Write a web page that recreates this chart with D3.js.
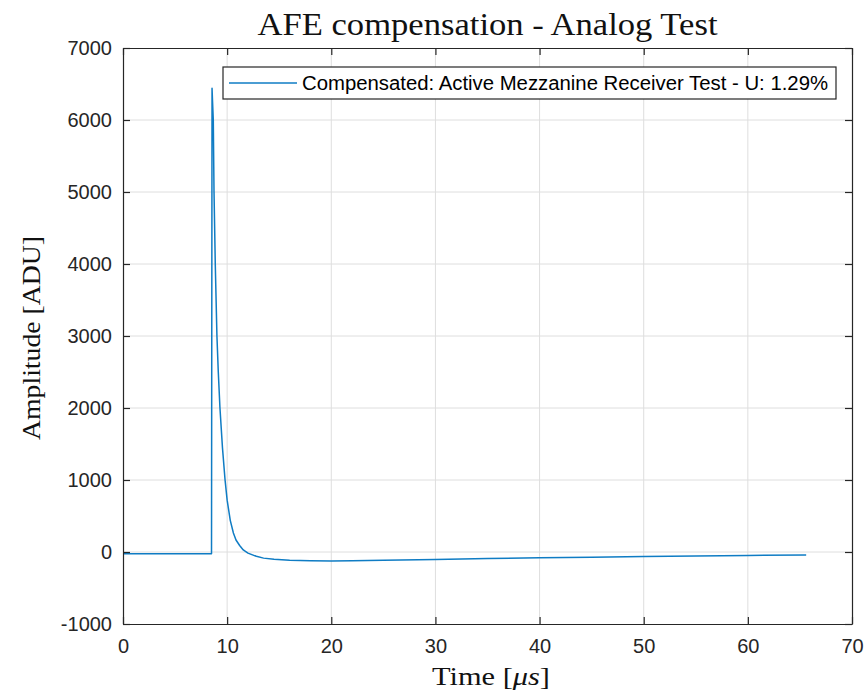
<!DOCTYPE html>
<html><head><meta charset="utf-8">
<script src="https://cdn.jsdelivr.net/npm/d3@7/dist/d3.min.js"></script>
<style>html,body{margin:0;padding:0;background:#fff;}svg{display:block;}</style>
</head><body>
<script>
// Data
const timeUs = [0, 2, 4, 6, 8, 8.5, 8.55, 8.6, 8.67, 8.74, 8.86, 9.02, 9.15, 9.31, 9.55, 9.8, 10.0, 10.3, 10.6, 10.85, 11.2, 11.55, 12.0, 12.8, 13.5, 14.5, 16, 18, 20, 22, 25, 30, 35, 40, 45, 50, 55, 60, 65.6];
const amplitude = [-25, -24, -25, -24, -24, -25, 6440, 6250, 6000, 5000, 4000, 3000, 2500, 2000, 1450, 1000, 720, 440, 264, 167, 90, 28, -15, -60, -85, -102, -115, -122, -124, -122, -115, -103, -92, -81, -72, -64, -56, -48, -42];
const xTicks = [0, 10, 20, 30, 40, 50, 60, 70];
const yTicks = [-1000, 0, 1000, 2000, 3000, 4000, 5000, 6000, 7000];
const seriesName = "Compensated: Active Mezzanine Receiver Test - U: 1.29%";

const W = 868, H = 694;
const m = {left: 123, right: 852, top: 48, bottom: 624};
const svg = d3.select("body").append("svg").attr("width", W).attr("height", H);

const x = d3.scaleLinear().domain([0, 70]).range([m.left, m.right]);
const y = d3.scaleLinear().domain([-1000, 7000]).range([m.bottom, m.top]);

const axisColor = "#262626";
const sans = "'Liberation Sans', Arial, sans-serif";
const serif = "'Liberation Serif', 'DejaVu Serif', serif";

// grid
const g = svg.append("g");
g.selectAll(".gx").data(xTicks.slice(1, -1)).join("line")
  .attr("x1", d => x(d)).attr("x2", d => x(d)).attr("y1", m.top).attr("y2", m.bottom)
  .attr("stroke", "#dedede").attr("stroke-width", 1);
g.selectAll(".gy").data(yTicks.slice(1, -1)).join("line")
  .attr("y1", d => y(d)).attr("y2", d => y(d)).attr("x1", m.left).attr("x2", m.right)
  .attr("stroke", "#dedede").attr("stroke-width", 1);

// line
svg.append("clipPath").attr("id", "clip").append("rect")
  .attr("x", m.left).attr("y", m.top).attr("width", m.right - m.left).attr("height", m.bottom - m.top);
svg.append("path")
  .datum(timeUs.map((t, i) => [t, amplitude[i]]))
  .attr("clip-path", "url(#clip)")
  .attr("fill", "none").attr("stroke", "#0f7cc4").attr("stroke-width", 1.5)
  .attr("stroke-linejoin", "round")
  .attr("d", d3.line().x(d => x(d[0])).y(d => y(d[1])));

// axes
const tickLen = 7;
const axB = svg.append("g").attr("transform", `translate(0,${m.bottom})`)
  .call(d3.axisBottom(x).tickValues(xTicks).tickSizeInner(-tickLen).tickSizeOuter(0).tickPadding(15));
const axT = svg.append("g").attr("transform", `translate(0,${m.top})`)
  .call(d3.axisTop(x).tickValues(xTicks).tickSizeInner(-tickLen).tickSizeOuter(0).tickFormat(""));
const axL = svg.append("g").attr("transform", `translate(${m.left},0)`)
  .call(d3.axisLeft(y).tickValues(yTicks).tickSizeInner(-tickLen).tickSizeOuter(0).tickPadding(11).tickFormat(d3.format("d")));
const axR = svg.append("g").attr("transform", `translate(${m.right},0)`)
  .call(d3.axisRight(y).tickValues(yTicks).tickSizeInner(-tickLen).tickSizeOuter(0).tickFormat(""));
[axB, axT, axL, axR].forEach(a => {
  a.select(".domain").attr("stroke", axisColor).attr("stroke-width", 1.2);
  a.selectAll(".tick line").attr("stroke", axisColor).attr("stroke-width", 1.2);
  a.selectAll(".tick text").attr("fill", axisColor).style("font-family", sans).style("font-size", "20px");
});
axB.selectAll(".tick text").attr("dy", "0.71em");
axL.selectAll(".tick text").text(d => d < 0 ? "-" + Math.abs(d) : d);

// title and labels
svg.append("text").attr("x", (m.left + m.right) / 2).attr("y", 35)
  .attr("text-anchor", "middle").style("font-family", serif).style("font-size", "31px").attr("fill", "#111")
  .attr("textLength", 460).attr("lengthAdjust", "spacingAndGlyphs")
  .text("AFE compensation - Analog Test");
const xl = svg.append("text").attr("x", 491).attr("y", 685)
  .attr("text-anchor", "middle").style("font-family", serif).style("font-size", "25px").attr("fill", "#111")
  .attr("textLength", 118).attr("lengthAdjust", "spacingAndGlyphs");
xl.append("tspan").text("Time [");
xl.append("tspan").style("font-style", "italic").text("μs");
xl.append("tspan").text("]");
svg.append("text").attr("transform", `translate(40,${(m.top + m.bottom) / 2 + 2}) rotate(-90)`)
  .attr("text-anchor", "middle").style("font-family", serif).style("font-size", "25px").attr("fill", "#111")
  .attr("textLength", 204).attr("lengthAdjust", "spacingAndGlyphs")
  .text("Amplitude [ADU]");

// legend
const lg = svg.append("g");
lg.append("rect").attr("x", 223).attr("y", 67).attr("width", 613).attr("height", 32)
  .attr("fill", "#fff").attr("stroke", axisColor).attr("stroke-width", 1.2);
lg.append("line").attr("x1", 229).attr("x2", 297).attr("y1", 83).attr("y2", 83)
  .attr("stroke", "#0f7cc4").attr("stroke-width", 1.5);
lg.append("text").attr("x", 302).attr("y", 90).style("font-family", sans).style("font-size", "20px")
  .attr("fill", "#000").attr("textLength", 526).attr("lengthAdjust", "spacingAndGlyphs")
  .text(seriesName);
</script>
</body></html>
